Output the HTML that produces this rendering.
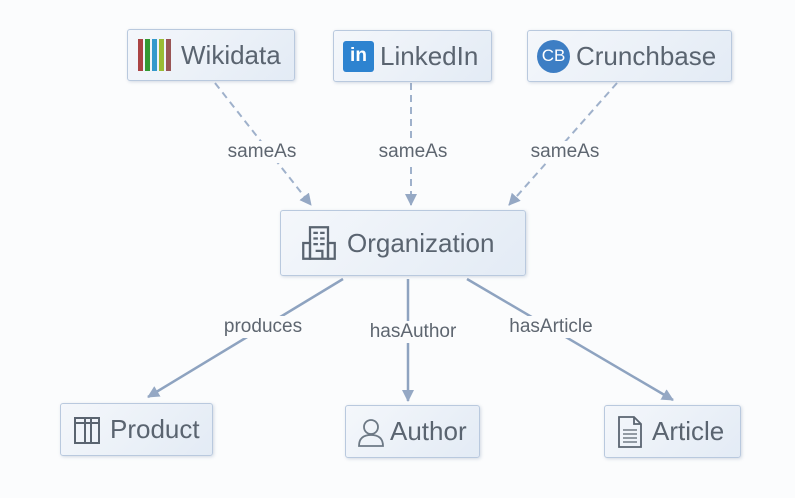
<!DOCTYPE html>
<html><head><style>
body{margin:0;width:795px;height:498px;background:#fbfcfd;font-family:"Liberation Sans",sans-serif;overflow:hidden;position:relative}
.n{position:absolute;box-sizing:border-box;border:1px solid #b9c9de;border-radius:3px;background:linear-gradient(135deg,#f4f7fb,#e3ebf5);box-shadow:1px 1px 3px rgba(120,140,170,.3);display:flex;align-items:center;color:#5a6470;font-size:26px;white-space:nowrap}
.l{position:absolute;font-size:19px;color:#5e6670;background:#fbfcfd;padding:0 2px;transform:translate(-50%,-50%)}
svg{position:absolute;left:0;top:0}
</style></head><body>
<svg width="795" height="498">
<defs><marker id="a" markerWidth="12" markerHeight="12" refX="11" refY="6" orient="auto" markerUnits="userSpaceOnUse"><path d="M0,0L12,6L0,12z" fill="#95a8c4"/></marker></defs>
<g stroke="#9fb1cb" stroke-width="2" fill="none" marker-end="url(#a)">
<line x1="215" y1="83" x2="311" y2="205" stroke-dasharray="7,5"/>
<line x1="411" y1="83" x2="411" y2="205" stroke-dasharray="7,5"/>
<line x1="617" y1="83" x2="509" y2="205" stroke-dasharray="7,5"/>
<line x1="343" y1="279" x2="148" y2="397" stroke="#8ea3c0" stroke-width="2.5"/>
<line x1="408" y1="279" x2="408" y2="401" stroke="#8ea3c0" stroke-width="2.5"/>
<line x1="467" y1="279" x2="673" y2="400" stroke="#8ea3c0" stroke-width="2.5"/>
</g></svg>
<div class="l" style="left:262px;top:152px">sameAs</div>
<div class="l" style="left:413px;top:152px">sameAs</div>
<div class="l" style="left:565px;top:152px">sameAs</div>
<div class="l" style="left:263px;top:327px">produces</div>
<div class="l" style="left:413px;top:332px">hasAuthor</div>
<div class="l" style="left:551px;top:327px">hasArticle</div>
<div class="n" style="left:127px;top:29px;width:168px;height:52px;padding-left:10px">
<span style="display:inline-flex;gap:2px;margin-right:10px"><i style="width:5px;height:32px;background:#a44;display:block"></i><i style="width:5px;height:32px;background:#393;display:block"></i><i style="width:5px;height:32px;background:#39c;display:block"></i><i style="width:5px;height:32px;background:#9b3;display:block"></i><i style="width:5px;height:32px;background:#955;display:block"></i></span>Wikidata</div>
<div class="n" style="left:333px;top:30px;width:159px;height:52px;padding-left:9px">
<span style="width:31px;height:31px;background:#2d83d0;border-radius:3px;color:#fff;font-weight:bold;font-size:19px;display:flex;align-items:center;justify-content:center;margin-right:6px">in</span>LinkedIn</div>
<div class="n" style="left:527px;top:30px;width:205px;height:52px;padding-left:9px">
<span style="width:33px;height:33px;background:#3d7ec4;border-radius:50%;color:#fff;font-size:17px;display:flex;align-items:center;justify-content:center;margin-right:6px">CB</span>Crunchbase</div>
<div class="n" style="left:280px;top:210px;width:246px;height:66px;padding-left:20px">
<svg style="position:static;margin-right:10px" width="36" height="36" viewBox="0 0 32 32"><g fill="none" stroke="#5a6470" stroke-width="2"><rect x="8" y="2" width="16" height="28"/><rect x="2" y="16" width="6" height="14"/><rect x="24" y="16" width="6" height="14"/><path d="M11 7h4M17 7h4M11 12h4M17 12h4M11 17h4M17 17h4M13 23h6v7"/></g></svg>Organization</div>
<div class="n" style="left:60px;top:403px;width:153px;height:53px;padding-left:11px">
<svg style="position:static;margin-right:6px" width="32" height="34" viewBox="0 0 32 32"><g fill="none" stroke="#5a6470" stroke-width="2"><rect x="3" y="4" width="24" height="25"/><path d="M13 4v25M19 4v25M3 9h24"/></g></svg>Product</div>
<div class="n" style="left:345px;top:405px;width:135px;height:53px;padding-left:10px">
<svg style="position:static;margin-right:4px" width="30" height="34" viewBox="0 0 30 32"><g fill="none" stroke="#6d7985" stroke-width="1.8"><circle cx="15" cy="11" r="7"/><path d="M3 30c0-8 5-11 12-11s12 3 12 11z"/></g></svg>Author</div>
<div class="n" style="left:604px;top:405px;width:137px;height:53px;padding-left:12px">
<svg style="position:static;margin-right:9px" width="26" height="34" viewBox="0 0 26 34"><g fill="none" stroke="#5a6470" stroke-width="1.8"><path d="M2 2h15l7 7v23H2z M17 2v7h7"/><path d="M6 15h14M6 19h14M6 23h14M6 27h14" stroke-width="1.2"/></g></svg>Article</div>
</body></html>
